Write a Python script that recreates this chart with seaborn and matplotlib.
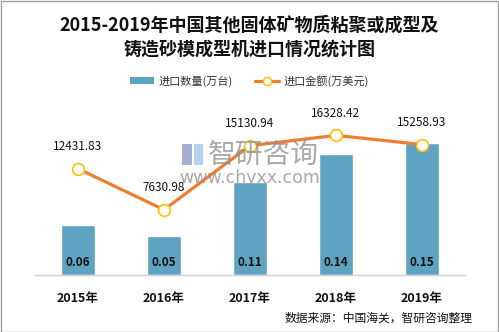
import numpy as np
import pandas as pd
import matplotlib
matplotlib.use("Agg")
import matplotlib.pyplot as plt
from matplotlib.patches import Rectangle, Patch
from matplotlib.lines import Line2D
import seaborn as sns

years = ["2015年", "2016年", "2017年", "2018年", "2019年"]
quantity = [0.058, 0.046, 0.109, 0.141, 0.154]          # 进口数量(万台)
quantity_labels = ["0.06", "0.05", "0.11", "0.14", "0.15"]
amount = [12431.83, 7630.98, 15130.94, 16328.42, 15258.93]  # 进口金额(万美元)

title = "2015-2019年中国其他固体矿物质粘聚或成型及\n铸造砂模成型机进口情况统计图"
legend_labels = ["进口数量(万台)", "进口金额(万美元)"]
source = "数据来源：中国海关，智研咨询整理"

sns.set_theme(style="white")
plt.rcParams["font.family"] = ["Noto Sans CJK SC", "DejaVu Sans"]

bar_color = "#5fa3c3"
line_color = "#ed7d31"
marker_edge = "#ffc000"

fig = plt.figure(figsize=(4.99, 3.32), dpi=100)
ax = fig.add_axes([35 / 499, 1 - 275 / 332, 430 / 499, 171 / 332])

df = pd.DataFrame({"year": years, "quantity": quantity})
sns.barplot(data=df, x="year", y="quantity", color=bar_color, width=0.4,
            saturation=1, ax=ax)
ax.set_xlim(-0.5, len(years) - 0.5)
ax.set_ylim(0, 0.2)
ax.set_xlabel("")
ax.set_ylabel("")
ax.set_yticks([])
for s in ["left", "right", "top"]:
    ax.spines[s].set_visible(False)
ax.spines["bottom"].set_color("#d0d0d0")
ax.spines["bottom"].set_linewidth(1.0)
ax.tick_params(axis="x", length=0, pad=12)
for lab in ax.get_xticklabels():
    lab.set_fontweight("bold")
    lab.set_fontsize(9)
    lab.set_color("#111111")

for i, t in enumerate(quantity_labels):
    ax.annotate(t, (i, 0), xytext=(0, 12), textcoords="offset pixels",
                ha="center", va="center", fontsize=8.5, fontweight="bold",
                color="#111111")

ax2 = ax.twinx()
x = np.arange(len(years))
ax2.plot(x, amount, color=line_color, lw=2.3, marker="o", markersize=8.5,
         markerfacecolor="white", markeredgecolor=marker_edge,
         markeredgewidth=1.2, zorder=5)
ax2.set_ylim(0, 20000)
ax2.set_yticks([])
for s in ["left", "right", "top", "bottom"]:
    ax2.spines[s].set_visible(False)
for i, v in enumerate(amount):
    ax2.annotate(f"{v:.2f}", (i, v), xytext=(0, 22), textcoords="offset pixels",
                 ha="center", va="center", fontsize=8.5, color="#111111")

# watermark
fig.text(263 / 499, 1 - 155 / 332, "智研咨询", fontsize=20, color="#8c8c8c",
         alpha=0.75, ha="center", va="center", zorder=10)
fig.text(250 / 499, 1 - 178 / 332, "www.chyxx.com", fontsize=12.5,
         color="#8c8c8c", alpha=0.75, ha="center", va="center", zorder=10,
         family="DejaVu Sans")
fig.patches.append(Rectangle((182 / 499, 1 - 165 / 332), 10 / 499, 21 / 332,
                             transform=fig.transFigure, facecolor="#7f8fbd",
                             alpha=0.7, edgecolor="none", zorder=10))
fig.patches.append(Rectangle((194 / 499, 1 - 165 / 332), 9 / 499, 21 / 332,
                             transform=fig.transFigure, facecolor="#a3c6e6",
                             alpha=0.8, edgecolor="none", zorder=10))

fig.text(0.5, 1 - 37 / 332, title, ha="center", va="center", fontsize=13,
         fontweight="bold", color="#111111", linespacing=1.35)

handles = [Patch(facecolor=bar_color, edgecolor="none"),
           Line2D([0], [0], color=line_color, lw=2.3, marker="o", markersize=6,
                  markerfacecolor="white", markeredgecolor=marker_edge)]
fig.legend(handles, legend_labels, loc="center", bbox_to_anchor=(0.5, 1 - 81 / 332),
           ncol=2, frameon=False, fontsize=8, handlelength=2.2, handleheight=0.6,
           columnspacing=2.0, handletextpad=0.4, labelcolor="#333333")

fig.text(473 / 499, 1 - 318 / 332, source, ha="right", va="center", fontsize=8.5,
         color="#111111")

fig.patches.append(Rectangle((0.5 / 499, 0.5 / 332), 497.5 / 499, 330.5 / 332,
                             transform=fig.transFigure, fill=False,
                             edgecolor="#a0a0a0", lw=1.0))

fig.savefig("out.png", dpi=100)
